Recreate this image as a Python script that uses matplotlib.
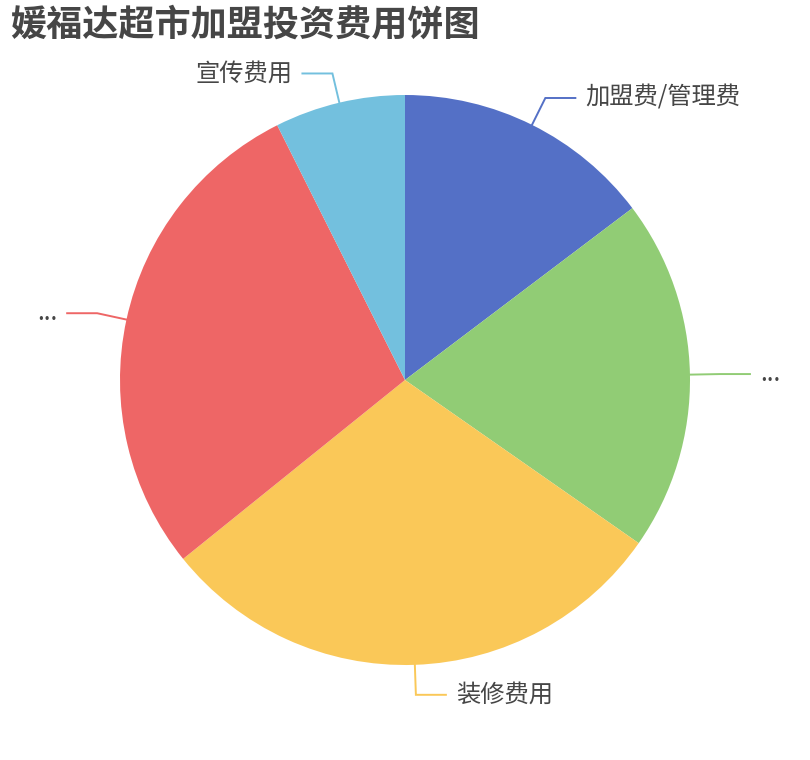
import numpy as np
import matplotlib.pyplot as plt

plt.rcParams['font.family'] = ['Noto Sans CJK SC', 'DejaVu Sans']

# data (shares)
labels = ['加盟费/管理费', '...', '装修费用', '...', '宣传费用']
values = [14.7, 20.0, 29.5, 28.4, 7.4]
colors = ['#5470c6', '#91cc75', '#fac858', '#ee6666', '#73c0de']
title = '媛福达超市加盟投资费用饼图'

W, H = 810, 760
cx, cy, r = 405, H - 380, 285

fig = plt.figure(figsize=(W / 100, H / 100), dpi=100)
ax = fig.add_axes([0, 0, 1, 1])

ax.pie(values, colors=colors, startangle=90, counterclock=False,
       center=(cx, cy), radius=r, wedgeprops=dict(linewidth=0))

ax.set_xlim(0, W)
ax.set_ylim(0, H)
ax.set_aspect('equal')
ax.axis('off')

# leader lines + labels, echarts style
total = sum(values)
start = 0.0
for lab, v, col in zip(labels, values, colors):
    span = v / total * 360
    mid = np.radians(start + span / 2)
    start += span
    dx, dy = np.sin(mid), np.cos(mid)
    p0 = (cx + r * dx, cy + r * dy)
    p1 = (cx + (r + 30) * dx, cy + (r + 30) * dy)
    side = 1 if dx >= 0 else -1
    p2 = (p1[0] + side * 30, p1[1])
    ax.plot([p0[0], p1[0], p2[0]], [p0[1], p1[1], p2[1]], color=col, lw=1.4,
            solid_joinstyle='miter')
    ax.text(p2[0] + side * 10, p2[1], lab, fontsize=17.5, color='#464646',
            ha='left' if side > 0 else 'right', va='center')

ax.text(10, H - 25, title, fontsize=26, fontweight='bold', color='#464646',
        ha='left', va='center')

fig.savefig('out.png', dpi=100, facecolor='white')
